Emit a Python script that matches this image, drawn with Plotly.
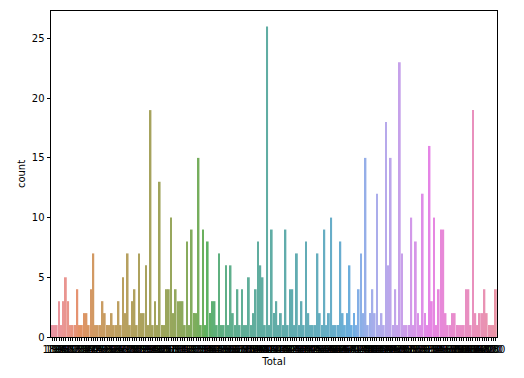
import math
import colorsys
import plotly.graph_objects as go

# ---- data ----
totals = [180, 190, 194, 195, 198, 200, 205, 210, 213, 215,
          218, 220, 224, 232, 236, 237, 240, 242, 244, 245, 250,
          251, 253, 255, 260, 262, 263, 264, 265, 266, 269,
          270, 273, 275, 278, 280, 281, 285, 288, 289, 290,
          292, 294, 295, 299, 300, 302, 303, 305, 306, 307,
          308, 309, 310, 313, 314, 315, 316, 318, 319, 320,
          323, 325, 328, 329, 330, 334, 335, 336, 340, 341,
          345, 348, 349, 350, 351, 355, 358, 360, 362, 363,
          365, 369, 370, 371, 375, 380, 381, 384, 385, 390,
          395, 400, 401, 405, 409, 410, 411, 413, 414, 415,
          418, 420, 423, 424, 425, 428, 430, 431, 435, 438,
          440, 442, 444, 445, 446, 448, 450, 452, 454, 455,
          458, 460, 461, 462, 464, 465, 466, 467, 468, 470,
          471, 472, 473, 474, 475, 478, 479, 480, 481, 483,
          484, 485, 487, 488, 489, 490, 494, 495, 497, 498,
          499, 500, 505, 507, 508, 509, 510, 515, 518, 519,
          520, 521, 523, 525, 528, 530, 534, 535, 540, 545,
          550, 555, 560, 570, 575, 579, 580, 590, 594, 600,
          610, 615, 618, 630, 634, 640, 650, 660, 670, 680, 700,
          720, 770, 780]

counts_left = [1, 1, 1, 3, 1, 3, 5, 3, 1, 1, 1, 4, 1, 1, 2, 2, 1, 4, 7, 1, 1,
               1, 3, 2, 1, 1, 2, 1, 1, 3, 1, 5, 2, 7, 1, 3, 4, 1, 7, 2, 2,
               6, 1, 19, 1, 3, 1, 13, 1, 1, 4, 4, 10, 2, 4, 3, 3, 3, 1, 8, 1,
               9, 2, 2, 15, 1, 9, 1, 8, 2, 3, 3, 1, 7, 1, 1, 6, 1, 6, 2, 1,
               4, 1, 4, 1, 1, 5, 1, 2, 4, 8, 6, 5, 1, 26, 1]
counts_right = [9, 2, 3, 1, 2, 1, 9, 1, 4, 4, 1, 7, 1, 3, 1, 8, 2, 1, 1, 1,
                7, 2, 1, 9, 1, 2, 10, 1, 1, 1, 8, 2, 1, 2, 6, 1, 2, 1, 4, 7,
                2, 15, 1, 2, 4, 2, 12, 1, 2, 1, 18, 6, 15, 1, 4, 1, 23, 7, 1, 1,
                1, 10, 1, 8, 2, 1, 12, 2, 1, 16, 3, 10, 1, 4, 9, 9, 2, 1, 1, 2,
                2, 1, 1, 1, 1, 4, 4, 1, 19, 2, 1, 2, 2, 4, 2, 1, 1, 1, 4]
counts = counts_left + counts_right
yticks = [0, 5, 10, 15, 20, 25]

n = min(len(totals), len(counts))
totals = totals[:n]
counts = counts[:n]
labels = [str(t) for t in totals]

# ---- seaborn-like husl palette, desaturated 0.75 ----
_m = [[3.2406, -1.5372, -0.4986],
      [-0.9689, 1.8758, 0.0415],
      [0.0557, -0.2040, 1.0570]]
refU, refV = 0.19784, 0.46834


def _max_chroma(L, H):
    hrad = math.radians(H)
    sinH, cosH = math.sin(hrad), math.cos(hrad)
    sub1 = (L + 16) ** 3 / 1560896.0
    sub2 = sub1 if sub1 > 0.008856 else L / 903.3
    result = float("inf")
    for m1, m2, m3 in _m:
        top = (0.99915 * m1 + 1.05122 * m2 + 1.14460 * m3) * sub2
        rb = 0.86330 * m3 - 0.17266 * m2
        lb = 0.12949 * m3 - 0.38848 * m1
        bottom = (rb * sinH + lb * cosH) * sub2
        for t in (0.0, 1.0):
            C = L * (top - 1.05122 * t) / (bottom + 0.17266 * sinH * t)
            if 0 < C < result:
                result = C
    return result


def _f_inv(t):
    return t ** 3 if t ** 3 > 0.008856 else (116 * t - 16) / 903.3


def _from_linear(c):
    return 12.92 * c if c <= 0.0031308 else 1.055 * c ** (1 / 2.4) - 0.055


def husl_to_rgb(H, S, L):
    C = _max_chroma(L, H) / 100.0 * S
    hr = math.radians(H)
    U, V = C * math.cos(hr), C * math.sin(hr)
    varY = _f_inv((L + 16) / 116.0)
    varU = U / (13.0 * L) + refU
    varV = V / (13.0 * L) + refV
    Y = varY
    X = -(9 * Y * varU) / ((varU - 4) * varV - varU * varV)
    Z = (9 * Y - 15 * varV * Y - varV * X) / (3 * varV)
    rgb = [_from_linear(r[0] * X + r[1] * Y + r[2] * Z) for r in _m]
    return [min(max(c, 0.0), 1.0) for c in rgb]


def palette(k, h=0.01, s=0.9, l=0.65, desat=0.75, lift=0.15):
    out = []
    for i in range(k):
        hue = ((i / k) + h) % 1 * 359
        r, g, b = husl_to_rgb(hue, s * 99, l * 99)
        hh, ll, ss = colorsys.rgb_to_hls(r, g, b)
        r, g, b = colorsys.hls_to_rgb(hh, ll, ss * desat)
        r, g, b = [c + (1 - c) * lift for c in (r, g, b)]
        out.append("rgb(%d,%d,%d)" % (round(r * 255), round(g * 255), round(b * 255)))
    return out


colors = palette(n)

fig = go.Figure(go.Bar(x=labels, y=counts, marker=dict(color=colors, line=dict(width=0))))

# page body has an 8px margin: the figure starts at (8, 8) in the window
font = dict(family="DejaVu Sans", size=10, color="#000000")
fig.update_layout(
    width=516, height=370,
    margin=dict(l=43, r=27, t=3, b=41, autoexpand=False),
    paper_bgcolor="white", plot_bgcolor="white",
    bargap=0.2, showlegend=False, font=font,
)
fig.update_xaxes(
    type="category", tickmode="array", tickvals=labels, ticktext=labels,
    tickangle=0, range=[-0.5, n - 0.5], automargin=False,
    showline=True, mirror=True, linecolor="black", linewidth=0.8,
    ticks="outside", ticklen=3.5, tickwidth=0.8, tickcolor="black",
    showgrid=False, tickfont=font,
    title=dict(text="Total", font=font, standoff=3),
)
fig.update_yaxes(
    range=[0, 27.3], tickvals=yticks, automargin=False,
    showline=True, mirror=True, linecolor="black", linewidth=0.8,
    ticks="outside", ticklen=3.5, tickwidth=0.8, tickcolor="black",
    showgrid=False, zeroline=False, tickfont=font,
    title=dict(text="count", font=font, standoff=4),
)
fig.write_html("out.html")
